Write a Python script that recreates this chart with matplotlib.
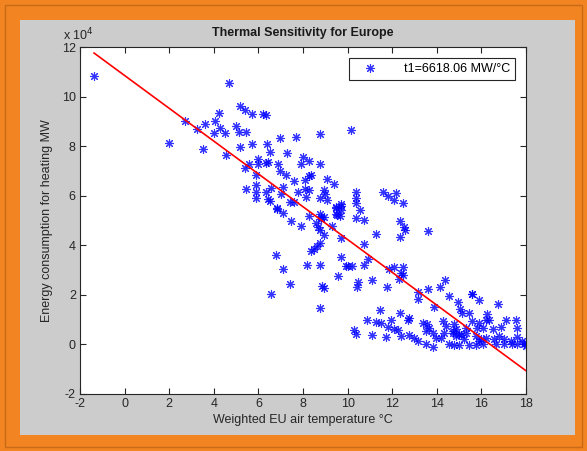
import numpy as np
import matplotlib
matplotlib.use("Agg")
import matplotlib.pyplot as plt
from matplotlib.patches import Rectangle
from matplotlib.ticker import FuncFormatter

plt.rcParams['font.family'] = ['Liberation Sans', 'DejaVu Sans']
plt.rcParams['axes.unicode_minus'] = False

# weighted EU air temperature (deg C) and heating consumption (x 10^4 MW)
temps = [
    -1.37, 1.99, 2.72, 3.23, 3.62, 3.51, 4.05, 4.24, 4.30, 4.02, 4.52, 4.56, 4.67,
    5.19, 5.41, 5.71, 6.2, 6.32, 5.0, 5.13, 5.46, 5.19, 5.71, 6.98, 7.69, 8.78, 6.39,
    6.5, 7.28, 5.38, 5.60, 5.98, 5.98, 6.32, 6.42, 6.9, 6.98, 7.99, 8.25, 7.89, 8.78,
    5.88, 5.88, 5.88, 5.88, 5.46, 6.35, 6.45, 6.5, 6.58, 7.1, 7.02, 6.82, 7.4, 7.58,
    7.77, 7.59, 8.1, 8.25, 8.34, 8.11, 8.29, 8.14, 9.08, 9.41, 8.96, 9.0, 8.77, 9.08,
    9.49, 9.71, 10.15, 7.25,
    6.82, 7.1, 7.47, 7.92, 8.26, 8.74, 8.81, 8.96, 8.81, 8.59, 8.66, 8.74, 9.31, 9.51,
    8.96, 9.71, 8.77, 8.62, 8.51, 8.37, 6.8, 8.17, 8.77, 9.71, 9.93, 7.1, 9.57, 7.4,
    8.86, 8.96, 6.58, 8.78,
    10.38, 10.38, 10.38, 9.71, 9.49, 9.71, 9.49, 9.64, 10.57, 10.38, 10.75, 11.57,
    11.8, 12.17, 12.1, 12.47, 12.34, 12.53, 12.56, 13.61, 11.27, 12.36,
    10.75, 10.0, 10.2, 10.75, 10.9, 10.45, 10.41, 11.08, 11.77, 11.87, 12.1, 12.47,
    12.4, 12.5, 12.32, 13.17, 13.17, 13.61, 14.14, 14.37, 14.55, 14.97, 15.57, 11.46,
    13.88, 12.36, 12.76, 12.69,
    10.87, 11.27, 11.5, 11.94, 11.79, 12.09, 10.3, 10.38, 11.08, 11.72, 12.24, 12.39,
    12.76, 12.99, 13.14, 13.36, 13.58, 13.66, 13.51, 13.81, 13.96, 14.26, 14.41, 14.33,
    14.18, 14.78, 14.74, 14.86, 15.08, 15.23, 15.3, 15.75, 15.9, 13.51, 13.81, 14.55,
    14.78, 15.0, 15.45, 15.75,
    15.03, 15.15, 15.45, 15.57, 15.87, 16.76, 16.27, 16.2, 16.35, 15.6, 15.9, 16.05,
    15.82, 16.52, 16.86, 17.09, 17.54, 17.61, 14.71, 14.86, 15.0, 15.3, 15.97, 16.2,
    16.57, 16.79, 17.02, 17.31, 17.61, 17.84, 17.91, 17.61, 16.05, 16.64, 17.02, 17.39,
    17.98, 17.98,
]
energy_e4 = [
    10.83, 8.13, 9.02, 8.71, 8.88, 7.88, 9.02, 9.34, 8.75, 8.53, 8.53, 7.63, 10.55,
    9.62, 9.45, 9.28, 9.28, 9.25, 8.81, 8.57, 8.57, 7.96, 8.1, 8.34, 8.37, 8.48, 8.07,
    7.76, 7.72, 7.13, 7.26, 7.47, 7.26, 7.32, 7.36, 7.29, 6.99, 7.56, 7.4, 7.26, 7.26,
    6.82, 6.45, 6.14, 5.91, 6.28, 6.14, 5.87, 5.8, 6.32, 6.34, 6.05, 5.51, 5.74, 5.74,
    6.14, 6.59, 6.64, 6.79, 6.82, 6.28, 6.24, 5.94, 6.68, 6.48, 6.24, 6.08, 5.91, 5.81,
    5.54, 5.6, 8.67, 6.82,
    5.47, 5.29, 4.97, 4.77, 5.17, 5.27, 5.16, 5.13, 5.06, 4.89, 4.75, 4.62, 4.79, 5.24,
    4.42, 4.3, 4.08, 3.96, 3.85, 3.76, 3.62, 3.21, 3.21, 3.54, 3.17, 3.04, 2.77, 2.43,
    2.36, 2.27, 2.03, 1.46,
    6.14, 5.91, 5.71, 5.67, 5.51, 5.43, 5.27, 5.2, 5.43, 5.1, 5.02, 6.14,
    6.0, 6.1, 5.84, 5.71, 5.0, 4.73, 4.63, 4.59, 4.45, 4.32,
    4.05, 3.17, 3.17, 3.21, 3.44, 2.5, 2.3, 2.6, 2.33, 3.04, 3.11, 3.13,
    2.9, 2.8, 2.64, 2.13, 1.83, 2.22, 2.33, 2.6, 1.94, 1.7, 2.03, 1.38,
    1.52, 1.28, 1.07, 0.98,
    0.99, 0.92, 0.85, 0.99, 0.72, 0.61, 0.57, 0.43, 0.38, 0.3, 0.57, 0.34,
    0.38, 0.27, 0.14, 0.88, 0.81, 0.65, 0.54, 0.47, 0.27, 0.95, 0.75, 0.47,
    0.27, 0.84, 0.54, 0.34, 0.38, 0.21, 0.68, 0.34, 0.14, 0.0, -0.11, 0.0,
    -0.03, -0.03, -0.03, -0.03,
    1.42, 1.28, 1.28, 2.05, 1.79, 1.65, 1.22, 0.98, 0.98, 0.95, 0.88, 0.65,
    0.68, 0.61, 0.7, 0.98, 0.98, 0.68, 0.47, 0.61, 0.41, 0.47, 0.21, 0.27,
    0.21, 0.34, 0.21, 0.14, 0.3, 0.14, 0.0, 0.0, 0.0, 0.0, 0.0, 0.0,
    0.05, -0.05,
]

slope = -6618.06      # MW per deg C
intercept = 108500.0  # MW
legend_label = 't1=6618.06 MW/°C'

x = np.array(temps)
y = np.array(energy_e4) * 1e4

fig = plt.figure(figsize=(5.87, 4.51), dpi=100, facecolor='#F28421')
# grey MATLAB-like panel and the thin darker frame
fig.patches.append(Rectangle((5 / 587, 4 / 451), 577 / 587, 442 / 451, transform=fig.transFigure,
                             facecolor='none', edgecolor='#C86A1A', lw=1.0, zorder=-10))
fig.patches.append(Rectangle((20 / 587, 16 / 451), 555 / 587, 415 / 451, transform=fig.transFigure,
                             facecolor='#CCCCCC', edgecolor='none', zorder=-10))

ax = fig.add_axes([80 / 587, 57 / 451, 446 / 587, 347 / 451])
ax.set_facecolor('white')

ax.plot(x, y, linestyle='none', marker=(8, 2, 0), markersize=6.5, markeredgewidth=0.8,
        color='#0000FF', alpha=0.8, label=legend_label, zorder=2)

xl = np.linspace(x.min(), x.max(), 2)
ax.plot(xl, intercept + slope * xl, color='#FF0000', lw=1.2, zorder=3)

ax.set_xlim(-2, 18)
ax.set_ylim(-2e4, 12e4)
ax.set_xticks(np.arange(-2, 19, 2))
ax.set_yticks(np.arange(-2e4, 12.1e4, 2e4))
ax.yaxis.set_major_formatter(FuncFormatter(lambda v, p: '%d' % round(v / 1e4)))
ax.tick_params(direction='in', top=True, right=True, length=4, width=0.8,
               labelsize=9, colors='#262626', pad=3)
for s in ax.spines.values():
    s.set_color('#262626')
    s.set_linewidth(0.8)

ax.text(-0.038, 1.012, r'x 10$^4$', transform=ax.transAxes, fontsize=9, color='#262626',
        ha='left', va='bottom')
ax.set_title('Thermal Sensitivity for Europe', fontsize=9, fontweight='bold', color='#1a1a1a', pad=8)
ax.set_xlabel('Weighted EU air temperature °C', fontsize=9, color='#262626', labelpad=3)
ax.set_ylabel('Energy consumption for heating MW', fontsize=9, color='#262626', labelpad=6)

leg = ax.legend(loc='upper right', fontsize=9, fancybox=False, framealpha=1,
                edgecolor='#262626', borderpad=0.4, handletextpad=1.5, handlelength=2.5,
                bbox_to_anchor=(0.99, 0.985))
leg.get_frame().set_linewidth(0.8)

fig.savefig('out.png', dpi=100, facecolor=fig.get_facecolor())
